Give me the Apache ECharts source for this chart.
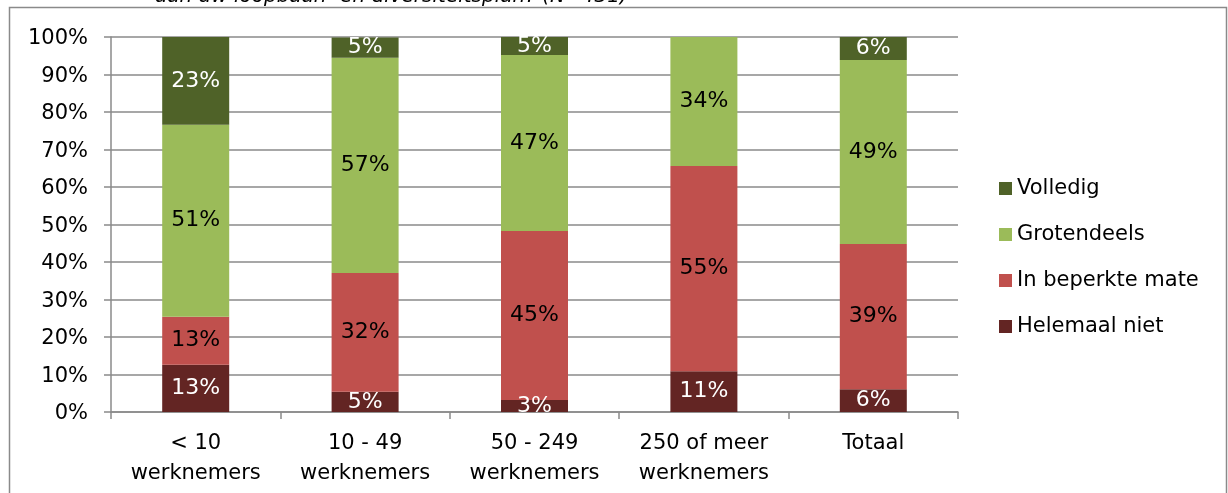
<!DOCTYPE html>
<html>
<head>
<meta charset="utf-8">
<script src="https://cdn.jsdelivr.net/npm/echarts@6/dist/echarts.min.js"></script>
<style>
html,body{margin:0;padding:0;background:#fff;}
#c{width:1228px;height:493px;}
</style>
</head>
<body>
<div id="c"></div>
<script>
var categories = ['< 10\nwerknemers', '10 - 49\nwerknemers', '50 - 249\nwerknemers', '250 of meer\nwerknemers', 'Totaal'];
var helemaalNiet = [12.6, 5.4, 3.2, 10.9, 6.1];
var inBeperkteMate = [12.8, 31.7, 45.1, 54.7, 38.7];
var grotendeels = [51.2, 57.4, 46.9, 34.4, 49.1];
var volledig = [23.4, 5.4, 4.8, 0, 6.1];
var yTicks = [0, 10, 20, 30, 40, 50, 60, 70, 80, 90, 100];
var titleText = 'aan uw loopbaan- en diversiteitsplan? (N=431)';

var FONT = 'DejaVu Sans';
function mkSeries(name, data, color, labelColor) {
  return {
    name: name, type: 'bar', stack: 'total', data: data, barWidth: 67,
    itemStyle: { color: color },
    label: {
      show: true, position: 'inside', color: labelColor,
      fontFamily: FONT, fontSize: 22,
      formatter: function (p) { return p.value > 0 ? Math.round(p.value) + '%' : ''; }
    }
  };
}
var chart = echarts.init(document.getElementById('c'), null, { renderer: 'canvas' });
chart.setOption({
  animation: false,
  textStyle: { fontFamily: FONT },
  graphic: [
    { type: 'rect', shape: { x: 9.5, y: 7.5, width: 1217, height: 500 }, style: { fill: 'none', stroke: '#8a8a8a', lineWidth: 1.5 }, z: -1 },
    { type: 'text', left: 155, top: -13, style: { text: titleText, font: 'italic 20px "DejaVu Sans"', fill: '#000' } }
  ],
  grid: { left: 111, right: 270, top: 37, bottom: 81 },
  legend: {
    orient: 'vertical', left: 999, top: 178, padding: 0, itemWidth: 13, itemHeight: 13, itemGap: 25,
    icon: 'rect',
    data: ['Volledig', 'Grotendeels', 'In beperkte mate', 'Helemaal niet'],
    textStyle: { fontFamily: FONT, fontSize: 21, color: '#000', lineHeight: 20 }
  },
  xAxis: {
    type: 'category', data: categories,
    axisLine: { lineStyle: { color: '#8a8a8a', width: 1.5 } },
    axisTick: { show: true, length: 7, lineStyle: { color: '#8a8a8a', width: 1.5 } },
    axisLabel: { color: '#000', fontFamily: FONT, fontSize: 21, lineHeight: 30, margin: 17, interval: 0 }
  },
  yAxis: {
    type: 'value', min: yTicks[0], max: yTicks[yTicks.length - 1], interval: 10,
    axisLine: { show: true, lineStyle: { color: '#8a8a8a', width: 1.5 } },
    axisTick: { show: true, length: 7, lineStyle: { color: '#8a8a8a', width: 1.5 } },
    axisLabel: {
      color: '#000', fontFamily: FONT, fontSize: 21, margin: 23,
      formatter: '{v|{value}%}',
      rich: { v: { fontFamily: FONT, fontSize: 21, color: '#000', padding: [4, 0, 0, 0] } }
    },
    splitLine: { lineStyle: { color: '#8a8a8a', width: 1.5 } }
  },
  series: [
    mkSeries('Helemaal niet', helemaalNiet, '#632523', '#fff'),
    mkSeries('In beperkte mate', inBeperkteMate, '#C0504D', '#000'),
    mkSeries('Grotendeels', grotendeels, '#9BBB59', '#000'),
    mkSeries('Volledig', volledig, '#4F6228', '#fff')
  ]
});
</script>
</body>
</html>
